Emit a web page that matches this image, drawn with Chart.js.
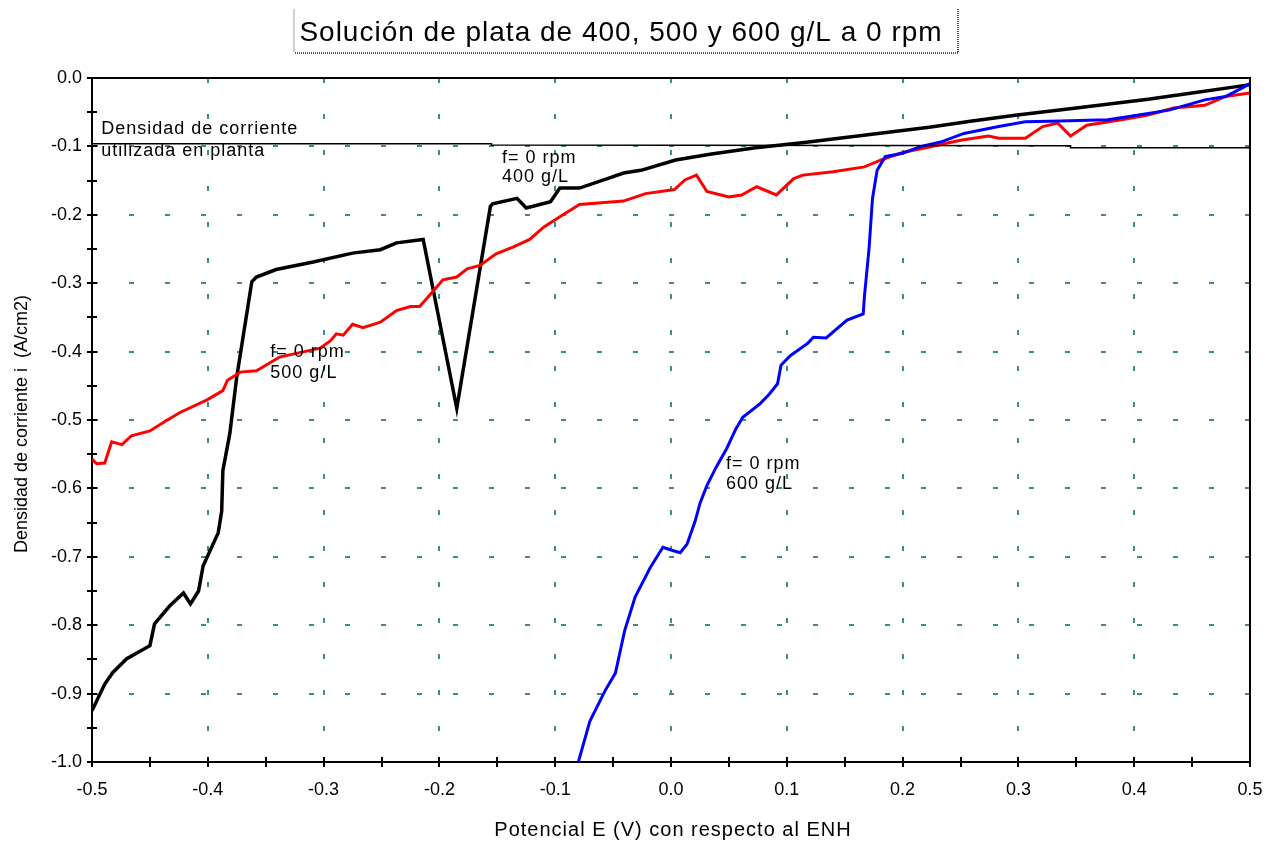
<!DOCTYPE html>
<html lang="es">
<head>
<meta charset="utf-8">
<title>Solución de plata de 400, 500 y 600 g/L a 0 rpm</title>
<script src="https://cdn.jsdelivr.net/npm/chart.js@4.4.1/dist/chart.umd.min.js"></script>
<style>
  body { margin: 0; background: #fff; }
  #chart { display: block; }
</style>
</head>
<body>
<canvas id="chart" width="1280" height="841"></canvas>

<script type="text/javascript">
"use strict";

// potential E (V vs ENH) and current density i (A/cm2) for each solution
var e400 = [-0.500, -0.489, -0.482, -0.470, -0.450, -0.446, -0.433, -0.421, -0.415, -0.408,
            -0.404, -0.391, -0.388, -0.387, -0.381, -0.375, -0.362, -0.358, -0.341, -0.309,
            -0.275, -0.251, -0.237, -0.214, -0.185, -0.156, -0.154, -0.133, -0.125, -0.104,
            -0.096, -0.079, -0.053, -0.041, -0.026, 0.004, 0.035, 0.073, 0.117, 0.170,
            0.223, 0.260, 0.299, 0.350, 0.412, 0.450, 0.487, 0.500];
var i400 = [-0.925, -0.886, -0.869, -0.849, -0.830, -0.798, -0.772, -0.753, -0.769, -0.750,
            -0.713, -0.665, -0.633, -0.574, -0.520, -0.437, -0.298, -0.291, -0.280, -0.269,
            -0.256, -0.251, -0.241, -0.236, -0.483, -0.188, -0.184, -0.176, -0.190, -0.181,
            -0.161, -0.161, -0.146, -0.139, -0.135, -0.120, -0.111, -0.102, -0.094, -0.083,
            -0.072, -0.063, -0.054, -0.044, -0.031, -0.022, -0.013, -0.010];

var e500 = [-0.500, -0.496, -0.489, -0.483, -0.474, -0.466, -0.450, -0.436, -0.424, -0.401,
            -0.387, -0.383, -0.372, -0.358, -0.338, -0.303, -0.294, -0.289, -0.283, -0.275,
            -0.266, -0.251, -0.237, -0.225, -0.217, -0.206, -0.197, -0.185, -0.176, -0.165,
            -0.151, -0.136, -0.122, -0.110, -0.096, -0.079, -0.041, -0.022, 0.003, 0.012,
            0.022, 0.031, 0.050, 0.061, 0.074, 0.091, 0.106, 0.114, 0.140, 0.167,
            0.181, 0.200, 0.223, 0.250, 0.274, 0.283, 0.306, 0.321, 0.334, 0.345,
            0.359, 0.389, 0.412, 0.434, 0.461, 0.479, 0.500];
var i500 = [-0.557, -0.564, -0.563, -0.532, -0.536, -0.523, -0.516, -0.501, -0.489, -0.471,
            -0.457, -0.442, -0.430, -0.428, -0.408, -0.395, -0.384, -0.374, -0.376, -0.360,
            -0.365, -0.357, -0.340, -0.334, -0.334, -0.313, -0.295, -0.291, -0.279, -0.274,
            -0.257, -0.247, -0.236, -0.218, -0.203, -0.185, -0.180, -0.169, -0.163, -0.149,
            -0.142, -0.166, -0.174, -0.171, -0.159, -0.171, -0.147, -0.142, -0.137, -0.130,
            -0.120, -0.109, -0.101, -0.091, -0.085, -0.088, -0.088, -0.071, -0.066, -0.085,
            -0.069, -0.061, -0.054, -0.044, -0.040, -0.027, -0.022];

var e600 = [-0.080, -0.070, -0.057, -0.048, -0.040, -0.031, -0.018, -0.007, 0.000, 0.008,
            0.014, 0.021, 0.025, 0.031, 0.039, 0.048, 0.056, 0.062, 0.077, 0.085,
            0.092, 0.095, 0.103, 0.118, 0.123, 0.134, 0.152, 0.166, 0.167, 0.171,
            0.174, 0.178, 0.185, 0.200, 0.216, 0.234, 0.253, 0.283, 0.306, 0.336,
            0.377, 0.393, 0.430, 0.461, 0.479, 0.495, 0.500];
var i600 = [-1.000, -0.940, -0.896, -0.870, -0.808, -0.759, -0.716, -0.686, -0.690, -0.694,
            -0.681, -0.647, -0.622, -0.596, -0.569, -0.542, -0.513, -0.496, -0.476, -0.462,
            -0.447, -0.420, -0.406, -0.388, -0.379, -0.380, -0.354, -0.345, -0.320, -0.250,
            -0.176, -0.135, -0.115, -0.110, -0.100, -0.093, -0.081, -0.071, -0.064, -0.063,
            -0.061, -0.057, -0.047, -0.032, -0.027, -0.013, -0.008];

// current density used in the plant
var ePlanta = [-0.500, -0.155, -0.155, 0.345, 0.345, 0.500];
var iPlanta = [-0.096, -0.096, -0.098, -0.099, -0.102, -0.102];

// notes written inside the plot (left edge x, middle y, in axis units)
var noteText = ["Densidad de corriente", "utilizada en planta",
                "f= 0 rpm", "400 g/L",
                "f= 0 rpm", "500 g/L",
                "f= 0 rpm", "600 g/L"];
var noteE = [-0.492, -0.492, -0.146, -0.146, -0.346, -0.346, 0.0475, 0.0475];
var noteI = [-0.075, -0.107, -0.117, -0.145, -0.401, -0.432, -0.565, -0.594];

var titleText = "Solución de plata de 400, 500 y 600 g/L a 0 rpm";
var xTitle = "Potencial E (V) con respecto al ENH";
var yTitle = "Densidad de corriente i  (A/cm2)";

var FONT = '"Liberation Sans", Arial, sans-serif';
var GRID = '#3d8b8b';

function toPoints(xs, ys) {
  return xs.map(function(x, k) { return {x: x, y: ys[k]}; });
}

function tickLabel(v, i) {
  if (i % 2) return '';
  if (Math.abs(v) < 1e-9) return '0.0';
  return v.toFixed(1);
}

// dashed grid only at the labelled ticks, never on the frame
function gridColor(c) {
  var n = c.scale.ticks.length - 1;
  if (c.index % 2 || c.index === 0 || c.index === n) return 'rgba(0,0,0,0)';
  return GRID;
}

var decorations = {
  id: 'decorations',
  afterDatasetsDraw: function(chart) {
    var ctx = chart.ctx;
    var xs = chart.scales.x, ys = chart.scales.y;
    ctx.save();
    ctx.fillStyle = '#000';
    ctx.font = '18px ' + FONT;
    ctx.letterSpacing = '1px';
    ctx.textAlign = 'left';
    ctx.textBaseline = 'middle';
    for (var k = 0; k < noteText.length; k++) {
      ctx.fillText(noteText[k], xs.getPixelForValue(noteE[k]), ys.getPixelForValue(noteI[k]));
    }
    ctx.restore();
  },
  afterDraw: function(chart) {
    var ctx = chart.ctx, a = chart.chartArea;
    var xs = chart.scales.x, ys = chart.scales.y;
    ctx.save();

    // top and right side of the frame
    ctx.strokeStyle = '#000';
    ctx.lineWidth = 2;
    ctx.beginPath();
    ctx.moveTo(a.left, a.top);
    ctx.lineTo(a.right, a.top);
    ctx.lineTo(a.right, a.bottom);
    ctx.stroke();

    // inner half of the axis ticks
    ctx.beginPath();
    xs.ticks.forEach(function(t, i) {
      var px = Math.round(xs.getPixelForTick(i));
      ctx.moveTo(px, a.bottom);
      ctx.lineTo(px, a.bottom - 5);
    });
    ys.ticks.forEach(function(t, i) {
      var py = Math.round(ys.getPixelForTick(i));
      ctx.moveTo(a.left, py);
      ctx.lineTo(a.left + 5, py);
    });
    ctx.stroke();

    // title in its box
    ctx.lineWidth = 2;
    ctx.strokeStyle = '#d0d0d0';
    ctx.beginPath();
    ctx.moveTo(294, 9);
    ctx.lineTo(294, 52);
    ctx.stroke();
    ctx.strokeStyle = '#555';
    ctx.setLineDash([1, 1]);
    ctx.beginPath();
    ctx.moveTo(295, 53);
    ctx.lineTo(958, 53);
    ctx.lineTo(958, 9);
    ctx.stroke();
    ctx.setLineDash([]);

    ctx.fillStyle = '#000';
    ctx.textAlign = 'center';
    ctx.textBaseline = 'alphabetic';
    ctx.font = '28px ' + FONT;
    ctx.letterSpacing = '1px';
    ctx.fillText(titleText, 621, 41);

    // axis titles
    ctx.font = '20px ' + FONT;
    ctx.letterSpacing = '1px';
    ctx.textBaseline = 'middle';
    ctx.fillText(xTitle, 673, 830);

    ctx.font = '18px ' + FONT;
    ctx.letterSpacing = '0px';
    ctx.translate(22, 424);
    ctx.rotate(-Math.PI / 2);
    ctx.fillText(yTitle, 0, 0);
    ctx.restore();
  }
};

function lineSet(label, xs, ys, color, width) {
  return {
    label: label,
    data: toPoints(xs, ys),
    showLine: true,
    borderColor: color,
    backgroundColor: color,
    borderWidth: width,
    pointRadius: 0,
    tension: 0,
    fill: false
  };
}

var axisTicks = {
  color: '#000',
  font: { family: FONT, size: 18 },
  autoSkip: false,
  maxRotation: 0,
  stepSize: 0.05,
  callback: tickLabel
};

var chart = new Chart(document.getElementById('chart'), {
  type: 'scatter',
  data: {
    datasets: [
      lineSet('utilizada en planta', ePlanta, iPlanta, '#000', 1.5),
      lineSet('600 g/L', e600, i600, '#0000ff', 3),
      lineSet('500 g/L', e500, i500, '#ff0000', 3),
      lineSet('400 g/L', e400, i400, '#000000', 3.5)
    ]
  },
  options: {
    responsive: false,
    animation: false,
    layout: { padding: { top: 78, right: 30, left: 0, bottom: 0 } },
    plugins: {
      legend: { display: false },
      title: { display: false },
      tooltip: { enabled: false }
    },
    scales: {
      x: {
        type: 'linear',
        min: -0.5,
        max: 0.5,
        afterFit: function(s) { s.height = 79; },
        ticks: Object.assign({}, axisTicks, { padding: 12 }),
        grid: {
          color: gridColor,
          lineWidth: 2,
          tickColor: '#000',
          tickWidth: 2,
          tickLength: 5
        },
        border: { display: true, color: '#000', width: 2, dash: [5, 31] }
      },
      y: {
        type: 'linear',
        min: -1.0,
        max: 0.0,
        afterFit: function(s) { s.width = 92; },
        ticks: Object.assign({}, axisTicks, { padding: 5 }),
        grid: {
          color: gridColor,
          lineWidth: 2,
          tickColor: '#000',
          tickWidth: 2,
          tickLength: 5
        },
        border: { display: true, color: '#000', width: 2, dash: [5, 31] }
      }
    }
  },
  plugins: [decorations]
});
</script>
</body>
</html>
